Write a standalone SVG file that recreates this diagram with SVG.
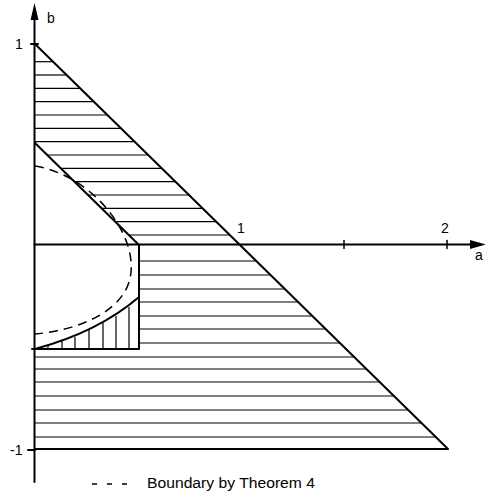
<svg xmlns="http://www.w3.org/2000/svg" width="485" height="496" viewBox="0 0 485 496">
<style>
.bold{stroke:#000;stroke-width:2;fill:none;stroke-linecap:round;stroke-linejoin:round}
.hatch{stroke:#000;stroke-width:1.2;fill:none}
.dash{stroke:#000;stroke-width:1.5;fill:none;stroke-dasharray:9 6}
.lbl{font-family:"Liberation Sans",Arial,sans-serif;font-size:14px;fill:#000}
</style>
<rect width="485" height="496" fill="#fff"/>
<g id="hatching-upper" class="hatch">
<line x1="35" y1="61.7" x2="53" y2="61.7"/>
<line x1="35" y1="75" x2="66.6" y2="75"/>
<line x1="35" y1="88.3" x2="80.2" y2="88.3"/>
<line x1="35" y1="101.7" x2="93.9" y2="101.7"/>
<line x1="35" y1="115" x2="107.4" y2="115"/>
<line x1="35" y1="128.3" x2="121" y2="128.3"/>
<line x1="35" y1="141.7" x2="134.6" y2="141.7"/>
<line x1="47.2" y1="155" x2="148.2" y2="155"/>
<line x1="60.8" y1="168.3" x2="161.8" y2="168.3"/>
<line x1="74.5" y1="181.7" x2="175.4" y2="181.7"/>
<line x1="88" y1="195" x2="189" y2="195"/>
<line x1="101.6" y1="208.3" x2="202.6" y2="208.3"/>
<line x1="115.3" y1="221.7" x2="216.3" y2="221.7"/>
<line x1="128.9" y1="235" x2="229.9" y2="235"/>
</g>
<g id="hatching-lower" class="hatch">
<line x1="139" y1="261" x2="256.3" y2="261"/>
<line x1="139" y1="275" x2="270.6" y2="275"/>
<line x1="139" y1="289" x2="284.9" y2="289"/>
<line x1="139" y1="302" x2="298.2" y2="302"/>
<line x1="139" y1="316" x2="312.4" y2="316"/>
<line x1="139" y1="329" x2="325.7" y2="329"/>
<line x1="139" y1="343" x2="340" y2="343"/>
<line x1="35" y1="357" x2="354.3" y2="357"/>
<line x1="35" y1="369" x2="366.5" y2="369"/>
<line x1="35" y1="382" x2="379.8" y2="382"/>
<line x1="35" y1="396" x2="394" y2="396"/>
<line x1="35" y1="410" x2="408.3" y2="410"/>
<line x1="35" y1="423" x2="421.6" y2="423"/>
<line x1="35" y1="437" x2="435.9" y2="437"/>
</g>
<g id="hatching-vertical" class="hatch">
<line x1="48" y1="345" x2="48" y2="349"/>
<line x1="62" y1="341" x2="62" y2="349"/>
<line x1="75" y1="337" x2="75" y2="349"/>
<line x1="89" y1="330" x2="89" y2="349"/>
<line x1="103" y1="323" x2="103" y2="349"/>
<line x1="116" y1="316" x2="116" y2="349"/>
<line x1="129" y1="307" x2="129" y2="349"/>
</g>
<g id="axes" class="bold">
<line x1="34.5" y1="482" x2="34.5" y2="18"/>
<polygon points="34.5,3 30.5,20 38.5,20" fill="#000" stroke="none"/>
<line x1="34.5" y1="244.5" x2="472" y2="244.5"/>
<polygon points="486,244.5 470,240 470,249" fill="#000" stroke="none"/>
<line x1="344" y1="240.5" x2="344" y2="248.5" stroke-width="1.5"/>
<line x1="447" y1="240.5" x2="447" y2="248.5" stroke-width="1.5"/>
<line x1="28" y1="450" x2="35" y2="450"/>
<line x1="31" y1="44" x2="38" y2="44"/>
</g>
<g id="region-boundaries" class="bold">
<polyline points="35,44 448,449 35,449"/>
<line x1="35" y1="143" x2="139" y2="245"/>
<polyline points="139,245 139,349 32,349"/>
<path d="M35,349 C72,339 110,322 139,297"/>
</g>
<g id="theorem4-boundary">
<path class="dash" d="M35,166 C90,175 135,230 131,272 C128,310 80,330 35,334"/>
</g>
<g id="labels" class="lbl">
<text x="47" y="23">b</text>
<text x="15" y="49">1</text>
<text x="237" y="233">1</text>
<text x="441" y="233">2</text>
<text x="475" y="260">a</text>
<text x="10" y="455">-1</text>
</g>
<g id="legend">
<line class="dash" x1="92" y1="484" x2="130" y2="484" style="stroke-dasharray:5 10"/>
<text class="lbl" x="147" y="488" textLength="168" lengthAdjust="spacingAndGlyphs">Boundary by Theorem 4</text>
</g>
</svg>
